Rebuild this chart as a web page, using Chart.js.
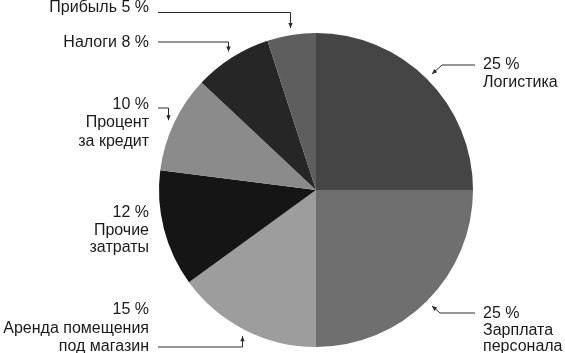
<!DOCTYPE html>
<html>
<head>
<meta charset="utf-8">
<script src="https://cdn.jsdelivr.net/npm/chart.js@4/dist/chart.umd.min.js"></script>
<style>
  html, body { margin: 0; padding: 0; background: #fff; }
  #wrap { width: 565px; height: 353px; position: relative; }
</style>
</head>
<body>
<div id="wrap"><canvas id="pie"></canvas></div>
<script>
// data, clockwise from 12 o'clock
const categories = [
  "Логистика",
  "Зарплата персонала",
  "Аренда помещения под магазин",
  "Прочие затраты",
  "Процент за кредит",
  "Налоги",
  "Прибыль",
];
const shares = [25, 25, 15, 12, 10, 8, 5];
const labelLines = [
  ["Логистика"],
  ["Зарплата", "персонала"],
  ["Аренда помещения", "под магазин"],
  ["Прочие", "затраты"],
  ["Процент", "за кредит"],
  ["Налоги"],
  ["Прибыль"],
];
const sliceColors = ["#454545", "#6f6f6f", "#9d9d9d", "#151515", "#8b8b8b", "#262626", "#5e5e5e"];

// where the callouts sit (layout only)
const callouts = [
  { side: "right", x: 483, ys: [65, 83], lineY: 65, bend: 442 },
  { side: "right", x: 483, ys: [314, 331, 347], lineY: 313, bend: 440 },
  { side: "left", x: 149, ys: [310, 329, 347], lineY: 347 },
  { side: "left", x: 149, ys: [213, 231, 248], lineY: null },
  { side: "left", x: 149, ys: [105, 123, 142], lineY: 108 },
  { side: "left", x: 149, ys: [43], lineY: 42, inline: true },
  { side: "left", x: 149, ys: [8], lineY: 12.5, inline: true },
];

function arrowHead(ctx, x, y, fromX, fromY) {
  const a = Math.atan2(y - fromY, x - fromX);
  const len = 5, w = 2.2;
  ctx.beginPath();
  ctx.moveTo(x, y);
  ctx.lineTo(x - len * Math.cos(a) + w * Math.sin(a), y - len * Math.sin(a) - w * Math.cos(a));
  ctx.lineTo(x - len * Math.cos(a) - w * Math.sin(a), y - len * Math.sin(a) + w * Math.cos(a));
  ctx.closePath();
  ctx.fill();
}

const calloutPlugin = {
  id: "callouts",
  afterDatasetsDraw(chart) {
    const ctx = chart.ctx;
    const meta = chart.getDatasetMeta(0);
    ctx.save();
    ctx.font = "16px 'Liberation Sans', Arial, sans-serif";
    ctx.textBaseline = "middle";
    ctx.strokeStyle = "#2a2a2a";
    ctx.lineWidth = 1;

    meta.data.forEach((arc, i) => {
      const c = callouts[i];
      const pct = shares[i] + " %";
      const lines = c.inline ? [labelLines[i][0] + " " + pct] : [pct, ...labelLines[i]];
      ctx.fillStyle = "#1a1a1a";
      ctx.textAlign = c.side === "left" ? "right" : "left";
      lines.forEach((t, k) => ctx.fillText(t, c.x, c.ys[k]));

      if (c.lineY === null) return;
      const mid = (arc.startAngle + arc.endAngle) / 2;
      const r = arc.outerRadius + 7;
      const tx = arc.x + Math.cos(mid) * r;
      const ty = arc.y + Math.sin(mid) * r;

      ctx.fillStyle = "#2a2a2a";
      ctx.beginPath();
      if (c.side === "left") {
        const vx = Math.round(tx) + 0.5;
        ctx.moveTo(158, c.lineY);
        ctx.lineTo(vx, c.lineY);
        ctx.lineTo(vx, ty);
        ctx.stroke();
        arrowHead(ctx, vx, ty, vx, c.lineY);
      } else {
        ctx.moveTo(475, c.lineY);
        ctx.lineTo(c.bend, c.lineY);
        ctx.lineTo(tx, ty);
        ctx.stroke();
        arrowHead(ctx, tx, ty, c.bend, c.lineY);
      }
    });
    ctx.restore();
  },
};

new Chart(document.getElementById("pie"), {
  type: "pie",
  data: {
    labels: categories,
    datasets: [{
      data: shares,
      backgroundColor: sliceColors,
      borderWidth: 0,
    }],
  },
  options: {
    responsive: true,
    maintainAspectRatio: false,
    animation: false,
    layout: { padding: { top: 33, bottom: 6, left: 159, right: 92 } },
    plugins: {
      legend: { display: false },
      tooltip: { enabled: false },
    },
  },
  plugins: [calloutPlugin],
});
</script>
</body>
</html>
